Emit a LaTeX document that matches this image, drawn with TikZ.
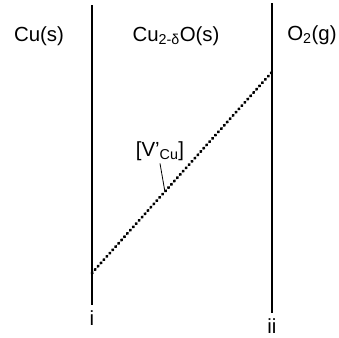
\documentclass[tikz,border=0pt]{standalone}
\usepackage{fontspec}
\setmainfont{Liberation Sans}
\usepackage{tikz}

\begin{document}
\begin{tikzpicture}[x=1bp,y=-1bp,font=\fontsize{20.5}{24}\selectfont,
  phase/.style={anchor=base,inner sep=0pt}]
  \useasboundingbox (0,0) rectangle (339,338);
  % interfaces
  \coordinate (itop) at (92,5);
  \coordinate (ibot) at (92,305);
  \coordinate (iitop) at (272,3);
  \coordinate (iibot) at (272,313);
  \draw[line width=1.4bp] (itop) -- (ibot);
  \draw[line width=1.4bp] (iitop) -- (iibot);
  \node[phase] (cu) at (39,41) {Cu(s)};
  \node[phase] (oxide) at (176,41) {Cu\textsubscript{2-δ}O(s)};
  \node[phase] (gas) at (312,40) {O\textsubscript{2}(g)};
  \node[phase] (i) at (92,325) {i};
  \node[phase] (ii) at (272,333) {ii};
  % vacancy profile
  \coordinate (vleft) at (92,273);
  \coordinate (vright) at (272,72);
  \draw[line width=3bp,line cap=round,dash pattern=on 0.6bp off 3.8bp] (vleft) -- coordinate[pos=0.405] (vmid) (vright);
  \node[phase] (vac) at (160,156) {[V’\textsubscript{Cu}]};
  \draw[line width=0.8bp] (vac.south) ++(0,3) -- (vmid);
\end{tikzpicture}
\end{document}
